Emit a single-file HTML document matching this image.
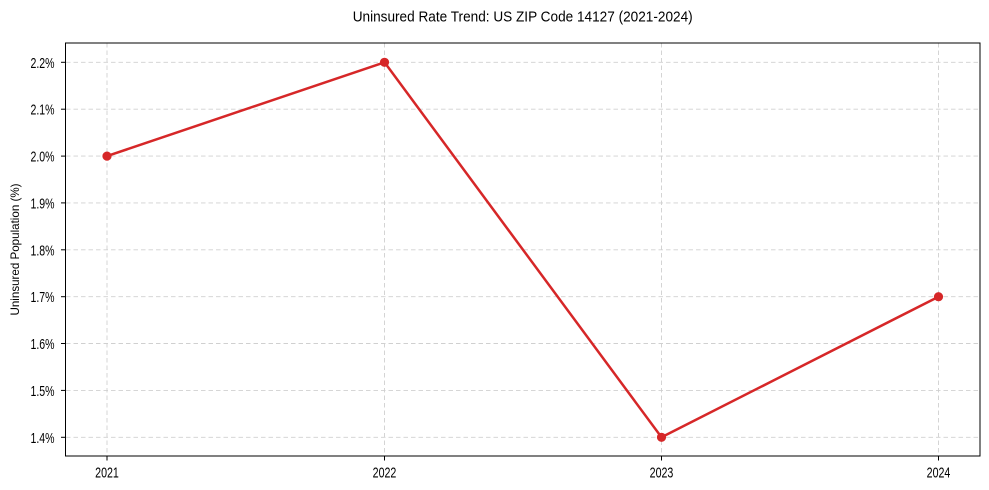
<!DOCTYPE html>
<html><head><meta charset="utf-8"><style>html,body{margin:0;padding:0;background:#fff}svg{display:block}</style></head>
<body>
<svg width="989" height="490" viewBox="0 0 989 490" xmlns="http://www.w3.org/2000/svg" font-family="'Liberation Sans', Arial, sans-serif">
<rect width="989" height="490" fill="#fff"/>
<text x="522.7" y="21.5" font-size="15" text-anchor="middle" textLength="340" lengthAdjust="spacingAndGlyphs" fill="#000">Uninsured Rate Trend: US ZIP Code 14127 (2021-2024)</text>
<g stroke="#d0d0d0" stroke-width="0.9" stroke-dasharray="4.5,3">
<line x1="107" y1="43" x2="107" y2="456"/>
<line x1="384.5" y1="43" x2="384.5" y2="456"/>
<line x1="661.5" y1="43" x2="661.5" y2="456"/>
<line x1="938.5" y1="43" x2="938.5" y2="456"/>
<line x1="66" y1="62.3" x2="980" y2="62.3"/>
<line x1="66" y1="109.2" x2="980" y2="109.2"/>
<line x1="66" y1="156.1" x2="980" y2="156.1"/>
<line x1="66" y1="202.9" x2="980" y2="202.9"/>
<line x1="66" y1="249.8" x2="980" y2="249.8"/>
<line x1="66" y1="296.7" x2="980" y2="296.7"/>
<line x1="66" y1="343.5" x2="980" y2="343.5"/>
<line x1="66" y1="390.4" x2="980" y2="390.4"/>
<line x1="66" y1="437.3" x2="980" y2="437.3"/>
</g>
<polyline points="107,156.1 384.5,62.3 661.5,437.3 938.5,296.7" fill="none" stroke="#d62728" stroke-width="2.5" stroke-linejoin="round"/>
<g fill="#d62728">
<circle cx="107" cy="156.1" r="4.6"/>
<circle cx="384.5" cy="62.3" r="4.6"/>
<circle cx="661.5" cy="437.3" r="4.6"/>
<circle cx="938.5" cy="296.7" r="4.6"/>
</g>
<rect x="65.5" y="43" width="914.5" height="413" fill="none" stroke="#000" stroke-width="1"/>
<g stroke="#000" stroke-width="1">
<line x1="61" y1="62.3" x2="65.5" y2="62.3"/>
<line x1="61" y1="109.2" x2="65.5" y2="109.2"/>
<line x1="61" y1="156.1" x2="65.5" y2="156.1"/>
<line x1="61" y1="202.9" x2="65.5" y2="202.9"/>
<line x1="61" y1="249.8" x2="65.5" y2="249.8"/>
<line x1="61" y1="296.7" x2="65.5" y2="296.7"/>
<line x1="61" y1="343.5" x2="65.5" y2="343.5"/>
<line x1="61" y1="390.4" x2="65.5" y2="390.4"/>
<line x1="61" y1="437.3" x2="65.5" y2="437.3"/>
<line x1="107" y1="456" x2="107" y2="460.5"/>
<line x1="384.5" y1="456" x2="384.5" y2="460.5"/>
<line x1="661.5" y1="456" x2="661.5" y2="460.5"/>
<line x1="938.5" y1="456" x2="938.5" y2="460.5"/>
</g>
<g font-size="15" fill="#000" text-anchor="end">
<text x="54.5" y="67.8" textLength="24" lengthAdjust="spacingAndGlyphs">2.2%</text>
<text x="54.5" y="114.7" textLength="24" lengthAdjust="spacingAndGlyphs">2.1%</text>
<text x="54.5" y="161.6" textLength="24" lengthAdjust="spacingAndGlyphs">2.0%</text>
<text x="54.5" y="208.4" textLength="24" lengthAdjust="spacingAndGlyphs">1.9%</text>
<text x="54.5" y="255.3" textLength="24" lengthAdjust="spacingAndGlyphs">1.8%</text>
<text x="54.5" y="302.2" textLength="24" lengthAdjust="spacingAndGlyphs">1.7%</text>
<text x="54.5" y="349" textLength="24" lengthAdjust="spacingAndGlyphs">1.6%</text>
<text x="54.5" y="395.9" textLength="24" lengthAdjust="spacingAndGlyphs">1.5%</text>
<text x="54.5" y="442.8" textLength="24" lengthAdjust="spacingAndGlyphs">1.4%</text>
</g>
<g font-size="15" fill="#000" text-anchor="middle">
<text x="107" y="477.7" textLength="23.7" lengthAdjust="spacingAndGlyphs">2021</text>
<text x="384.5" y="477.7" textLength="23.7" lengthAdjust="spacingAndGlyphs">2022</text>
<text x="661.5" y="477.7" textLength="23.7" lengthAdjust="spacingAndGlyphs">2023</text>
<text x="938.5" y="477.7" textLength="23.7" lengthAdjust="spacingAndGlyphs">2024</text>
</g>
<text transform="translate(19,249.5) rotate(-90)" x="0" y="0" font-size="12" text-anchor="middle" textLength="132" lengthAdjust="spacingAndGlyphs" fill="#000">Uninsured Population (%)</text>
</svg>
</body></html>
